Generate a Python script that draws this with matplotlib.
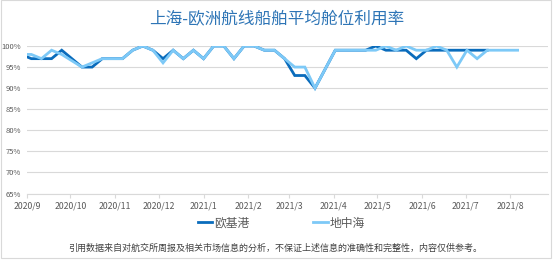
import pandas as pd
import matplotlib
matplotlib.use("Agg")
import matplotlib.pyplot as plt
import matplotlib.dates as mdates
from matplotlib.patches import Rectangle
from matplotlib.ticker import FuncFormatter

plt.rcParams['font.family'] = ['Noto Sans CJK SC', 'DejaVu Sans']

# 周度数据（周五），第一个点在坐标轴左侧之外
dates = pd.date_range("2020-08-28", periods=50, freq="7D")

europe = [98, 97, 97, 97, 99, 97, 95, 95, 97, 97, 97, 99, 100, 99, 97, 99,
          97, 99, 97, 100, 100, 97, 100, 100, 99, 99, 97, 93, 93, 90, 94.5,
          99, 99, 99, 99, 100, 99, 99, 99, 97, 99, 99, 99, 99, 99, 99, 99]
med = [98, 98, 97, 99, 98, 96.5, 95, 96, 97, 97, 97, 99, 100, 99, 96, 99,
       97, 99, 97, 100, 100, 97, 100, 100, 99, 99, 97, 95, 95, 90, 94.5,
       99, 99, 99, 99, 99, 100, 99, 100, 99, 99, 100, 99, 95, 99, 97, 99,
       99, 99, 99]

labels = ["欧基港", "地中海"]
title = "上海-欧洲航线船舶平均舱位利用率"
note = "引用数据来自对航交所周报及相关市场信息的分析，不保证上述信息的准确性和完整性，内容仅供参考。"
yticks = [65, 70, 75, 80, 85, 90, 95, 100]

fig = plt.figure(figsize=(5.54, 2.70), dpi=100)
ax = fig.add_axes([0.0487, 0.2833, 0.9405, 0.5463])

ax.plot(dates[:len(europe)], europe, color="#0a6cbc", lw=2.0,
        label=labels[0], solid_joinstyle="miter")
ax.plot(dates[:len(med)], med, color="#7dc9f7", lw=2.0,
        label=labels[1], solid_joinstyle="miter")

ax.set_xlim(pd.Timestamp("2020-09-01"), pd.Timestamp("2021-08-27"))
ax.set_ylim(65, 100)
ax.set_yticks(yticks)
ax.yaxis.set_major_formatter(FuncFormatter(lambda v, p: f"{int(v)}%"))
ax.xaxis.set_major_locator(mdates.MonthLocator())
ax.xaxis.set_major_formatter(FuncFormatter(
    lambda v, p: f"{mdates.num2date(v).year}/{mdates.num2date(v).month}"))

ax.grid(axis="y", color="#d9d9d9", lw=0.8)
ax.set_axisbelow(True)
for s in ["top", "right", "left"]:
    ax.spines[s].set_visible(False)
ax.spines["bottom"].set_color("#d9d9d9")
ax.tick_params(axis="y", length=0, pad=4, labelsize=5.5, labelcolor="#595959")
ax.tick_params(axis="x", length=3, color="#d9d9d9", pad=3, labelsize=6.3,
               labelcolor="#595959")

fig.text(0.5, 0.93, title, ha="center", va="center", fontsize=12,
         color="#2e75b6")
ax.legend(loc="center", bbox_to_anchor=(0.488, -0.2), ncol=2,
          frameon=False, fontsize=8.5, handlelength=1.25, handletextpad=0.15,
          columnspacing=5.4, labelcolor="#595959")
fig.text(0.497, 0.082, note, ha="center", va="center", fontsize=6.5,
         color="#404040")

fig.patches.append(Rectangle((0.001, 0.0444), 0.993, 0.954,
                             transform=fig.transFigure, fill=False,
                             edgecolor="#d9d9d9", lw=0.8))

fig.savefig("out.png", dpi=100)
